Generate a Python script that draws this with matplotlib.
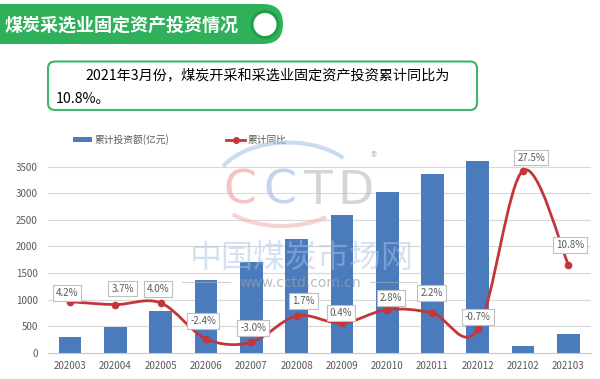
import numpy as np
import matplotlib
matplotlib.use('Agg')
import matplotlib.pyplot as plt
from matplotlib.patches import FancyBboxPatch, Rectangle, Circle, Arc, PathPatch
from matplotlib.path import Path

plt.rcParams['font.family'] = ['Noto Sans CJK SC', 'DejaVu Sans']

# data
months = ['202003', '202004', '202005', '202006', '202007', '202008',
          '202009', '202010', '202011', '202012', '202102', '202103']
invest = [300, 490, 780, 1360, 1710, 2135, 2590, 3030, 3370, 3600, 125, 345]
yoy = [4.2, 3.7, 4.0, -2.4, -3.0, 1.7, 0.4, 2.8, 2.2, -0.7, 27.5, 10.8]
yoy_labels = ['4.2%', '3.7%', '4.0%', '-2.4%', '-3.0%', '1.7%', '0.4%',
              '2.8%', '2.2%', '-0.7%', '27.5%', '10.8%']
yticks = [0, 500, 1000, 1500, 2000, 2500, 3000, 3500]

title = '煤炭采选业固定资产投资情况'
note1 = '2021年3月份，煤炭开采和采选业固定资产投资累计同比为'
note2 = '10.8%。'

BLUE = '#4a7bbd'
RED = '#c3363a'
GREEN = '#2eb15a'
GREY = '#595959'

W, H = 600, 379
fig = plt.figure(figsize=(6, 3.79), dpi=100)

# pixel-space overlay for banner, note box and legend
ov = fig.add_axes([0, 0, 1, 1], zorder=0)
ov.set_xlim(0, W)
ov.set_ylim(H, 0)
ov.axis('off')

# chart area
left, right, bottom = 47.5, 591, 352.7
ymax = 3700
px_per = 186 / 3500.0
top = bottom - ymax * px_per
ax = fig.add_axes([left / W, (H - bottom) / H, (right - left) / W, (bottom - top) / H], zorder=1)
ax.patch.set_alpha(0)

x = np.arange(len(months))
ax.bar(x, invest, width=0.5, color=BLUE, zorder=2)
ax.set_xlim(-0.5, len(months) - 0.5)
ax.set_ylim(0, ymax)
ax.set_yticks(yticks)
ax.set_xticks(x)
ax.set_xticklabels(months)
ax.tick_params(axis='both', length=0, labelsize=7, colors=GREY)
ax.tick_params(axis='y', pad=7)
ax.tick_params(axis='x', pad=6)
ax.grid(axis='y', color='#d9d9d9', lw=0.8, zorder=0)
ax.set_axisbelow(True)
for s in ['top', 'right', 'left']:
    ax.spines[s].set_visible(False)
ax.spines['bottom'].set_color('#c8c8c8')

# secondary axis for the growth line
ax2 = ax.twinx()
ax2.set_zorder(2)
y0 = -27.3 / 5.63
ax2.set_ylim(y0, y0 + (bottom - top) / 5.63)
ax2.axis('off')

# smoothed line (bezier through the points, Excel style)
pts = np.column_stack([x, yoy]).astype(float)
verts = [pts[0]]
codes = [Path.MOVETO]
n = len(pts)
for i in range(n - 1):
    p0 = pts[max(i - 1, 0)]
    p1 = pts[i]
    p2 = pts[i + 1]
    p3 = pts[min(i + 2, n - 1)]
    verts += [p1 + (p2 - p0) / 6, p2 - (p3 - p1) / 6, p2]
    codes += [Path.CURVE4] * 3
ax2.add_patch(PathPatch(Path(verts, codes), fill=False, ec=RED, lw=2, zorder=3))
ax2.plot(x, yoy, 'o', color=RED, ms=4.5, zorder=4)

offs = [(-3, 9), (7, 16), (-3, 14), (-3, 18), (2, 14), (7, 15),
        (-1, 10), (4, 12), (-1, 20), (0, 12), (8, 13), (2, 20)]
for xi, yi, lbl, (dx, dy) in zip(x, yoy, yoy_labels, offs):
    ax2.annotate(lbl, (xi, yi), xytext=(dx, dy), textcoords='offset pixels',
                 ha='center', va='center', fontsize=7, color=GREY, zorder=5,
                 annotation_clip=False,
                 bbox=dict(boxstyle='square,pad=0.3', fc='white', ec='#bfbfbf', lw=0.8))

# title banner
ov.add_patch(FancyBboxPatch((-40, 4), 323, 40, boxstyle='round,pad=0,rounding_size=20',
                            fc=GREEN, ec='none'))
ov.add_patch(Circle((265, 24.5), 14.5, fc='#1f9f48', ec='none'))
ov.add_patch(Circle((265, 24.5), 11.5, fc='white', ec='none'))
ov.text(5, 25, title, color='white', fontsize=13, fontweight='bold', va='center', ha='left')

# note box
ov.add_patch(FancyBboxPatch((48, 61.5), 429, 48.5, boxstyle='round,pad=0,rounding_size=7',
                            fc='white', ec='#3cb46a', lw=1.5))
ov.text(85, 76, note1, fontsize=10.2, color='black', va='center', ha='left')
ov.text(56, 99, note2, fontsize=10.2, color='black', va='center', ha='left')

# legend
ov.add_patch(Rectangle((72.7, 136.7), 19, 5.6, fc=BLUE, ec='none'))
ov.text(94, 139.5, '累计投资额(亿元)', fontsize=7, color=GREY, va='center', ha='left')
ov.plot([226, 245], [139.5, 139.5], color=RED, lw=2)
ov.plot([235.5], [139.5], 'o', color=RED, ms=4)
ov.text(247, 139.5, '累计同比', fontsize=7, color=GREY, va='center', ha='left')

# watermark, drawn faintly on top
wm = fig.add_axes([0, 0, 1, 1], zorder=5)
wm.set_xlim(0, W)
wm.set_ylim(H, 0)
wm.axis('off')
wm.add_patch(Arc((288, 190), 150, 95, theta1=200, theta2=330, color='#a9c4e6', lw=3, alpha=0.6))
wm.add_patch(Arc((282, 186), 140, 80, theta1=35, theta2=150, color='#f4b3b6', lw=3, alpha=0.6))
for ch, cx, col in [('C', 240, '#f2a9ad'), ('C', 280, '#a9c4e6'),
                    ('T', 318, '#c4c4c4'), ('D', 355, '#c4c4c4')]:
    wm.text(cx, 191, ch, fontsize=34, family='DejaVu Sans', color=col, alpha=0.7,
            ha='center', va='center')
wm.text(374, 158, '®', fontsize=9, color='#b0b0b0', ha='center', va='center', alpha=0.8)
wm.text(302, 258, '中国煤炭市场网', fontsize=23, color='#a8c4e4', alpha=0.5,
        ha='center', va='center')
wm.text(300, 283, 'www.cctd.com.cn', fontsize=10, family='DejaVu Sans', color='#a0a0a0',
        alpha=0.7, ha='center', va='center')
wm.plot([182, 230], [281.5, 281.5], color='#b0b0b0', lw=0.8, alpha=0.6)
wm.plot([370, 417], [281.5, 281.5], color='#b0b0b0', lw=0.8, alpha=0.6)

fig.savefig('out.png', dpi=100)
